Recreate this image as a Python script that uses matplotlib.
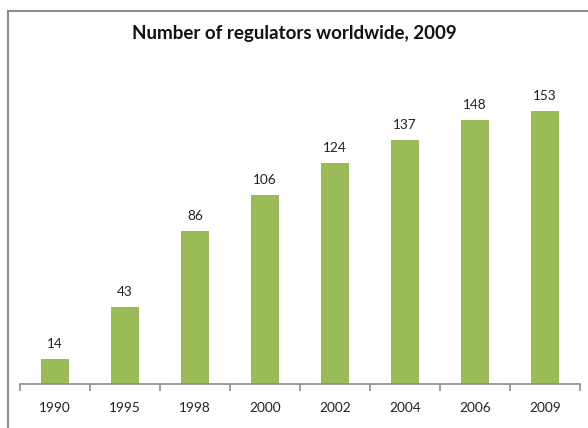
import matplotlib
matplotlib.use("Agg")
import matplotlib.pyplot as plt
from matplotlib.patches import Rectangle
from matplotlib.ticker import FixedLocator

years = ["1990", "1995", "1998", "2000", "2002", "2004", "2006", "2009"]
regulators = [14, 43, 86, 106, 124, 137, 148, 153]

plt.rcParams['font.family'] = ['Lato', 'DejaVu Sans']

W, H = 588, 428
fig = plt.figure(figsize=(W / 100, H / 100), dpi=100)

# outer chart border (cropped on right and bottom)
fig.patches.append(Rectangle((8 / W, -0.1), 1.2, (H - 11) / H + 0.1,
                             transform=fig.transFigure, fill=False,
                             edgecolor='#8c8c8c', linewidth=1.5))

ax = fig.add_axes([20 / W, 1 - 384 / H, 560 / W, 321 / H])
x = list(range(len(years)))
ax.bar(x, regulators, width=0.4, color='#9BBB59')
ax.set_xlim(-0.5, len(years) - 0.5)
ax.set_ylim(0, 180)

for xi, v in zip(x, regulators):
    ax.text(xi, v + 5, str(v), ha='center', va='bottom', fontsize=9.8, color='#222222')

for s in ['top', 'right', 'left']:
    ax.spines[s].set_visible(False)
ax.spines['bottom'].set_color('#8c8c8c')
ax.spines['bottom'].set_linewidth(1.2)
ax.set_yticks([])
ax.set_xticks(x)
ax.set_xticklabels(years, fontsize=9.8, color='#222222')
ax.tick_params(axis='x', which='major', length=0, pad=13)
ax.xaxis.set_minor_locator(FixedLocator([i - 0.5 for i in range(len(years) + 1)]))
ax.tick_params(axis='x', which='minor', length=5, color='#8c8c8c', width=1.2)

fig.text(0.5, 1 - 33 / H, "Number of regulators worldwide, 2009", ha='center',
         va='center', fontsize=13.5, fontweight='bold', color='#111111')

fig.savefig("out.png", dpi=100)
